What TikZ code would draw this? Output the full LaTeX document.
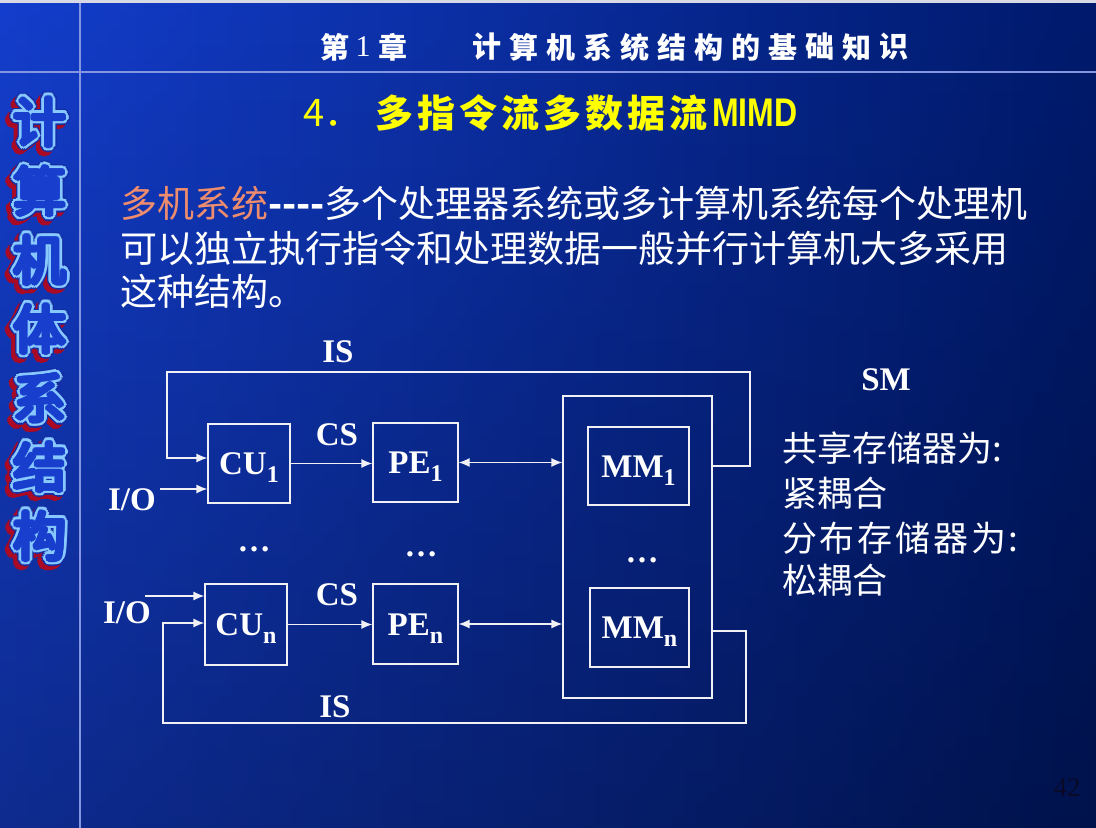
\documentclass[tikz,border=0pt]{standalone}
\usepackage{fontspec}
\setmainfont{Liberation Serif}
\newfontfamily\cjk{Noto Sans CJK SC}
\newfontfamily\cjkwide{Noto Sans CJK SC}[LetterSpace=8]
\newfontfamily\narrowsans{Liberation Sans}
\usetikzlibrary{arrows.meta,calc,fadings}

\definecolor{bgL}{RGB}{20,62,205}
\definecolor{bgR}{RGB}{0,26,108}
\definecolor{lineC}{RGB}{240,240,245}
\definecolor{ruleC}{RGB}{130,150,225}
\definecolor{stripC}{RGB}{215,218,228}
\definecolor{shadowred}{RGB}{170,10,35}
\definecolor{gapblue}{RGB}{20,45,165}
\definecolor{outlineblue}{RGB}{135,200,255}
\definecolor{innerblue}{RGB}{24,62,205}
\definecolor{salmon}{RGB}{238,140,110}
\definecolor{titleyellow}{RGB}{255,255,0}
\definecolor{pagenum}{RGB}{10,10,40}

\tikzfading[name=darkenlow, top color=transparent!100, bottom color=transparent!0]

\newcommand{\fsz}[1]{\fontsize{#1}{#1}\selectfont}
\newcommand{\lowsub}[1]{\raisebox{-8pt}{\fsz{24}#1}}

\begin{document}
\begin{tikzpicture}[x=1pt,y=-1pt,
  line/.style={draw=lineC, line width=1.3pt},
  tip/.tip={Latex[length=11pt,width=9pt]},
  arr/.style={line, -tip},
  dblarr/.style={line, tip-tip},
  box/.style={line, inner sep=0pt, text=white, font=\fsz{33}\bfseries,
    text height=22pt, text depth=0pt},
  lbl/.style={text=white, font=\fsz{33}\bfseries, inner sep=0pt},
  vt/.style={font=\cjk\fsz{53}, inner sep=0pt},
  hdr/.style={text=white, font=\cjk\bfseries\fsz{29}, inner sep=0pt},
  ttl/.style={text=titleyellow, font=\cjk\bfseries\fsz{38}, inner sep=0pt},
  body/.style={text=white, font=\cjk\fsz{37}, inner sep=0pt, anchor=west},
  side/.style={text=white, font=\cjk\fsz{35}, inner sep=0pt, anchor=west}
]
% slide background: blue fading to navy on the right, darker toward the bottom
\shade[left color=bgL, right color=bgR] (0,0) rectangle (1096,828);
\fill[black, opacity=0.3, path fading=darkenlow] (0,0) rectangle (1096,828);
\useasboundingbox (0,0) rectangle (1096,828);
\fill[stripC] (0,0) rectangle (1096,3);
\draw[ruleC, line width=1.2pt] (80,3) -- (80,828);
\draw[ruleC, line width=1.2pt] (0,72) -- (1096,72);

% hollow-stroke vertical caption with a red drop shadow
\foreach \ch [count=\i] in {计,算,机,体,系,结,构}{
  \pgfmathsetmacro\yy{122+69*(\i-1)}
  \foreach \a in {0,15,...,345}
    \node[vt, text=shadowred] at ($(36,\yy+4)+(\a:6)$) {\ch};
  \foreach \a in {0,15,...,345}
    \node[vt, text=gapblue] at ($(40,\yy)+(\a:6)$) {\ch};
  \foreach \a in {0,22.5,...,337.5}
    \node[vt, text=outlineblue] at ($(40,\yy)+(\a:4.6)$) {\ch};
  \foreach \a in {0,30,...,330}
    \node[vt, text=innerblue] at ($(40,\yy)+(\a:2)$) {\ch};
  \node[vt, text=innerblue] (v\i) at (40,\yy) {\ch};
}

% chapter header
\node[hdr] (hA) at (335,47) {第};
\node[text=white, font=\fsz{30}, inner sep=0pt] (hB) at (363,47) {1};
\node[hdr] (hC) at (393,47) {章};
\foreach \ch [count=\i] in {计,算,机,系,统,结,构,的,基,础,知,识}
  \node[hdr] (h\i) at ({486.5+37*(\i-1)},47) {\ch};

% slide title
\node[text=titleyellow, font=\cjk\fsz{38}, inner sep=0pt, anchor=west] (t0) at (303,113) {4．};
\foreach \ch [count=\i] in {多,指,令,流,多,数,据,流}
  \node[ttl] (t\i) at ({394+42*(\i-1)},113) {\ch};
\node[text=titleyellow, font=\narrowsans\bfseries\fsz{40}, inner sep=0pt, anchor=west] (tM) at (712,113)
  {\scalebox{0.8}[1]{MIMD}};

% body text
\node[body] (b1) at (120,203) {\textcolor{salmon}{多机系统}{\bfseries ----}多个处理器系统或多计算机系统每个处理机};
\node[body] (b2) at (120,248) {可以独立执行指令和处理数据一般并行计算机大多采用};
\node[body] (b3) at (120,291) {这种结构。};

% processor / memory blocks
\node[box, minimum width=82pt, minimum height=79pt] (cu1) at (249,463.5) {CU\lowsub{1}};
\node[box, minimum width=85pt, minimum height=79pt] (pe1) at (415.5,462.5) {PE\lowsub{1}};
\node[box, minimum width=82pt, minimum height=81pt] (cun) at (246,624.5) {CU\lowsub{n}};
\node[box, minimum width=85pt, minimum height=80pt] (pen) at (415.5,624) {PE\lowsub{n}};
\node[box, minimum width=149pt, minimum height=302pt] (sm) at (637.5,547) {};
\node[box, minimum width=101pt, minimum height=78pt] (mm1) at (638.5,466) {MM\lowsub{1}};
\node[box, minimum width=99pt, minimum height=79pt] (mmn) at (639.5,627.5) {MM\lowsub{n}};

% routing points
\coordinate (isTR) at (750,372);
\coordinate (isTL) at (167,372);
\coordinate (isTin) at (167,458);
\coordinate (isBR) at (746,723);
\coordinate (isBL) at (163,723);
\coordinate (isBin) at (163,623);
\coordinate (io1) at (160,489);
\coordinate (io2) at (145,596);
\coordinate (mmnOut) at (0,631);

% instruction streams
\draw[arr] (sm.east |- mm1.east) -| (isTR) -- (isTL) -- (isTin) -- (cu1.west |- isTin);
\draw[arr] (sm.east |- mmnOut) -| (isBR) -- (isBL) -- (isBin) -- (cun.west |- isBin);
% I/O inputs
\draw[arr] (io1) -- (cu1.west |- io1);
\draw[arr] (io2) -- (cun.west |- io2);
% control streams and memory links
\draw[arr] (cu1.east) -- (cu1.east -| pe1.west);
\draw[dblarr] (pe1.east) -- (pe1.east -| sm.west);
\draw[arr] (cun.east) -- (cun.east -| pen.west);
\draw[dblarr] (pen.east) -- (pen.east -| sm.west);

% labels
\node[lbl] (isTop) at (338,352) {IS};
\node[lbl] (cs1) at (337,435) {CS};
\node[lbl] (ioA) at (132,500) {I/O};
\node[lbl] (dotsA) at (254,549) {…};
\node[lbl] (dotsB) at (421,554) {…};
\node[lbl] (dotsC) at (642,560) {…};
\node[lbl] (cs2) at (337,595) {CS};
\node[lbl] (ioB) at (127,613) {I/O};
\node[lbl] (isBot) at (335,707) {IS};
\node[lbl] (smlbl) at (886,380) {SM};

% side notes
\node[side] (s1) at (782,448) {共享存储器为:};
\node[side] (s2) at (782,493) {紧耦合};
\node[side, font=\cjkwide\fsz{35}] (s3) at (782,538) {分布存储器为:};
\node[side] (s4) at (782,580) {松耦合};

% page number
\node[text=pagenum, font=\fsz{27}, inner sep=0pt] (pg) at (1067,788) {42};
\end{tikzpicture}
\end{document}
